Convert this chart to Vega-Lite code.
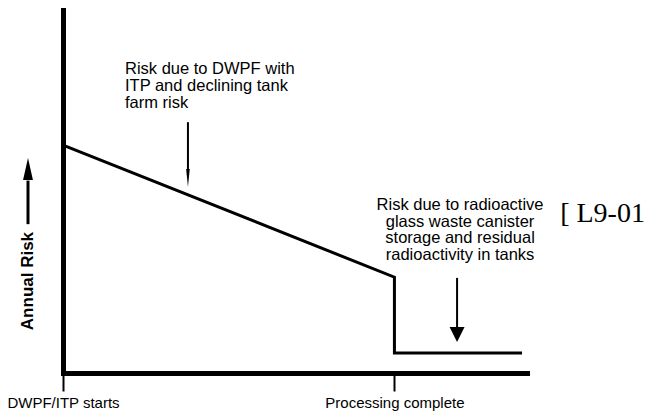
{
  "$schema": "https://vega.github.io/schema/vega-lite/v6.json",
  "width": 464,
  "height": 363,
  "autosize": {"type": "none"},
  "padding": {"left": 63, "top": 10, "right": 131, "bottom": 43},
  "background": "white",
  "config": {"view": {"stroke": null}, "font": "Liberation Sans"},
  "encoding": {
    "x": {
      "field": "t", "type": "quantitative",
      "scale": {"domain": [0, 14], "nice": false, "zero": false},
      "axis": {
        "values": [0, 10],
        "labelExpr": "datum.value == 0 ? 'DWPF/ITP starts' : 'Processing complete'",
        "title": null, "grid": false,
        "domainColor": "black", "domainWidth": 5, "domainCap": "square",
        "tickColor": "black", "tickWidth": 2, "tickSize": 18,
        "labelFontSize": 15, "labelColor": "black", "labelPadding": 4,
        "labelFlush": false, "labelOverlap": false, "labelFont": "Liberation Sans"
      }
    },
    "y": {
      "field": "r", "type": "quantitative",
      "scale": {"domain": [0, 10], "nice": false, "zero": false},
      "axis": {
        "title": null, "grid": false, "ticks": false, "labels": false,
        "domainColor": "black", "domainWidth": 5, "domainCap": "square"
      }
    }
  },
  "layer": [
    {
      "data": {"values": [
        {"i": 1, "t": 0, "r": 6.28},
        {"i": 2, "t": 10, "r": 2.64},
        {"i": 3, "t": 10, "r": 0.55},
        {"i": 4, "t": 13.85, "r": 0.55}
      ]},
      "mark": {"type": "line", "color": "black", "strokeWidth": 3, "strokeJoin": "miter"},
      "encoding": {"order": {"field": "i", "type": "quantitative"}}
    },
    {
      "data": {"values": [
        {"t": 3.77, "r": 6.91, "r2": 5.45},
        {"t": 11.89, "r": 2.62, "r2": 1.21}
      ]},
      "mark": {"type": "rule", "color": "black", "strokeWidth": 2},
      "encoding": {"y2": {"field": "r2"}}
    },
    {
      "data": {"values": [
        {"t": -1.056, "r": 4.1, "r2": 5.3}
      ]},
      "mark": {"type": "rule", "color": "black", "strokeWidth": 3},
      "encoding": {"y2": {"field": "r2"}}
    },
    {
      "data": {"values": [{"t": 3.77, "r": 5.37}]},
      "mark": {"type": "point", "filled": true, "color": "black", "opacity": 1, "size": 324, "shape": "M-0.2,-1L0.2,-1L0,1Z"}
    },
    {
      "data": {"values": [{"t": 11.89, "r": 1.06}]},
      "mark": {"type": "point", "filled": true, "color": "black", "opacity": 1, "size": 225, "shape": "M-1,-1L1,-1L0,1Z"}
    },
    {
      "data": {"values": [{"t": -1.056, "r": 5.62}]},
      "mark": {"type": "point", "filled": true, "color": "black", "opacity": 1, "size": 484, "shape": "M-0.45,1L0.45,1L0,-1Z"}
    },
    {
      "data": {"values": [{"t": 1.87, "r": 8.59, "label": "Risk due to DWPF with\nITP and declining tank\nfarm risk"}]},
      "mark": {"type": "text", "align": "left", "baseline": "top", "fontSize": 16.5, "lineHeight": 16.7, "lineBreak": "\n", "color": "black"},
      "encoding": {"text": {"field": "label"}}
    },
    {
      "data": {"values": [{"t": 11.98, "r": 4.85, "label": "Risk due to radioactive\nglass waste canister\nstorage and residual\nradioactivity in tanks"}]},
      "mark": {"type": "text", "align": "center", "baseline": "top", "fontSize": 16.5, "lineHeight": 16.7, "lineBreak": "\n", "color": "black"},
      "encoding": {"text": {"field": "label"}}
    },
    {
      "data": {"values": [{"t": -1.056, "r": 1.18, "label": "Annual Risk"}]},
      "mark": {"type": "text", "align": "left", "baseline": "middle", "angle": 270, "fontSize": 17, "fontWeight": "bold", "color": "black"},
      "encoding": {"text": {"field": "label"}}
    },
    {
      "data": {"values": [{"t": 15.0, "r": 4.16, "label": "[ L9-01"}]},
      "mark": {"type": "text", "align": "left", "baseline": "alphabetic", "fontSize": 28, "font": "Liberation Serif", "color": "black"},
      "encoding": {"text": {"field": "label"}}
    }
  ]
}
